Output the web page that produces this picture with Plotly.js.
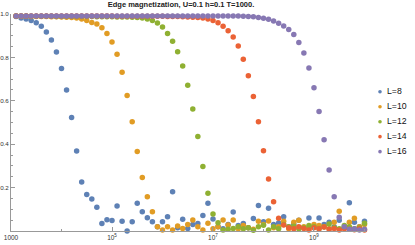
<!DOCTYPE html>
<html><head><meta charset="utf-8">
<script src="https://cdn.plot.ly/plotly-3.0.1.min.js"></script>
<style>html,body{margin:0;padding:0;background:#fff;overflow:hidden}#chart{width:415px;height:245px}</style>
</head><body><div id="chart"></div>
<script>
// x grid (time steps, log spaced)
const xValues = [
  1e3,1.259e3,1.585e3,1.995e3,2.512e3,3.162e3,3.981e3,5.012e3,6.310e3,7.943e3,
  1e4,1.259e4,1.585e4,1.995e4,2.512e4,3.162e4,3.981e4,5.012e4,6.310e4,7.943e4,
  1e5,1.259e5,1.585e5,1.995e5,2.512e5,3.162e5,3.981e5,5.012e5,6.310e5,7.943e5,
  1e6,1.259e6,1.585e6,1.995e6,2.512e6,3.162e6,3.981e6,5.012e6,6.310e6,7.943e6,
  1e7,1.259e7,1.585e7,1.995e7,2.512e7,3.162e7,3.981e7,5.012e7,6.310e7,7.943e7,
  1e8,1.259e8,1.585e8,1.995e8,2.512e8,3.162e8,3.981e8,5.012e8,6.310e8,7.943e8,
  1e9,1.259e9,1.585e9,1.995e9,2.512e9,3.162e9,3.981e9,5.012e9,6.310e9,7.943e9,
  1e10
];

const seriesNames = ['L=8','L=10','L=12','L=14','L=16'];
const seriesColors = ['#5E81B5','#E19C24','#8FB032','#EB6235','#8778B3'];

const magL8 = [
  0.990,0.988,0.982,0.977,0.970,0.960,0.943,0.917,0.880,0.825,0.749,0.650,0.523,
  0.369,0.226,0.168,0.148,0.109,0.034,0.052,0.048,0.115,0.045,0.000,0.043,0.128,
  0.089,0.061,0.043,0.020,0.043,0.066,0.181,0.015,0.054,0.012,0.030,0.035,0.071,
  0.128,0.055,0.020,0.010,0.030,0.087,0.025,0.035,0.015,0.058,0.117,0.043,0.105,
  0.030,0.037,0.066,0.020,0.030,0.050,0.015,0.060,0.020,0.060,0.030,0.040,0.020,
  0.050,0.015,0.130,0.040,0.020,0.045
];
const magL10 = [
  0.991,0.991,0.990,0.990,0.989,0.989,0.988,0.988,0.987,0.987,0.986,0.985,0.984,
  0.982,0.977,0.970,0.961,0.954,0.937,0.910,0.871,0.815,0.731,0.624,0.504,0.366,
  0.246,0.158,0.089,
  0.020,0.005,0.020,0.005,0.023,0.011,0.030,0.051,0.020,0.005,0.036,0.010,0.020,
  0.051,0.028,0.051,0.010,0.025,0.015,0.008,0.045,0.030,0.046,0.015,0.020,0.045,
  0.010,0.040,0.050,0.020,0.010,0.030,0.025,0.020,0.010,0.040,0.091,0.015,0.040,
  0.059,0.020,0.030
];
const magL12 = [
  0.991,0.991,0.991,0.991,0.990,0.990,0.990,0.990,0.990,0.989,0.989,0.989,0.989,
  0.988,0.988,0.988,0.988,0.987,0.987,0.987,0.987,0.986,0.986,0.986,0.985,
  0.984,0.982,0.977,0.970,0.958,0.940,0.910,0.875,0.826,0.760,0.672,0.562,
  0.435,0.297,0.174,0.078,0.038,0.005,0.008,0.012,0.020,0.010,0.015,0.003,0.020,
  0.026,0.005,0.020,0.010,0.030,0.020,0.022,0.010,0.015,0.025,0.020,0.010,0.020,
  0.032,0.015,0.010,0.025,0.020,0.010,0.015,0.036
];
const magL14 = [
  0.991,0.991,0.991,0.991,0.991,0.991,0.991,0.991,0.991,0.991,0.991,0.991,0.991,
  0.991,0.991,0.991,0.991,0.991,0.991,0.991,0.991,
  0.990,0.990,0.990,0.990,0.990,0.990,0.990,0.990,0.990,0.990,
  0.989,0.988,0.988,0.987,0.986,0.985,
  0.984,0.982,0.977,0.970,0.960,0.943,0.923,0.894,0.852,0.792,0.715,0.620,0.504,
  0.370,0.240,0.135,
  0.059,0.028,0.015,0.010,0.020,0.012,0.005,0.015,0.010,0.018,0.008,0.012,0.005,
  0.010,0.008,0.006,0.010,0.005
];
const magL16 = [
  0.991,0.991,0.991,0.991,0.991,0.991,0.991,0.991,0.991,0.991,0.991,0.991,0.991,
  0.991,0.991,0.991,0.991,0.991,0.991,0.991,0.991,0.991,0.991,0.991,0.991,0.991,
  0.991,0.991,0.991,0.991,0.991,0.991,0.991,0.991,0.991,0.991,0.991,0.991,0.991,
  0.991,0.991,0.991,0.991,0.991,0.991,0.991,
  0.990,0.989,0.987,0.984,0.980,0.976,0.968,0.957,0.945,0.928,0.906,0.869,0.820,
  0.751,0.660,0.551,0.420,0.281,0.158,0.063,
  0.020,0.008,0.010,0.005,0.008
];
const seriesValues = [magL8, magL10, magL12, magL14, magL16];

const xTickVals = [1e3,1e5,1e7,1e9];
const xTickText = ['1000','10<sup>5</sup>','10<sup>7</sup>','10<sup>9</sup>'];
const xMinorVals = [1e4,1e6,1e8,1e10];
const yTickVals = [0.2,0.4,0.6,0.8,1.0];
const yTickText = ['0.2','0.4','0.6','0.8','1.0'];
const yMinorVals = [0.05,0.1,0.15,0.25,0.3,0.35,0.45,0.5,0.55,0.65,0.7,0.75,0.85,0.9,0.95];
const legendSlots = [0,1,2,3,4];

const FONT = '"Liberation Sans", Arial, sans-serif';
const AX = '#999';

const traces = seriesValues.map((vals, i) => ({
  type:'scatter', mode:'markers', name: seriesNames[i],
  x: xValues, y: vals, xaxis:'x', yaxis:'y',
  marker:{color: seriesColors[i], size:5.5, line:{width:0}},
  cliponaxis:false, hoverinfo:'skip', showlegend:false
}));

// legend drawn as a small side panel: swatches, then labels
traces.push({
  type:'scatter', mode:'markers', xaxis:'x2', yaxis:'y2',
  x: legendSlots.map(() => 0), y: legendSlots,
  marker:{color: seriesColors, size:3.6},
  cliponaxis:false, hoverinfo:'skip', showlegend:false
});
traces.push({
  type:'scatter', mode:'text', xaxis:'x2', yaxis:'y2',
  x: legendSlots.map(() => 0.7), y: legendSlots,
  text: seriesNames, textposition:'middle right',
  textfont:{family:FONT, size:8.7, color:'#111'},
  cliponaxis:false, hoverinfo:'skip', showlegend:false
});

const layout = {
  width:415, height:245,
  margin:{l:11, r:0, t:14, b:14, pad:0},
  paper_bgcolor:'#fff', plot_bgcolor:'#fff',
  showlegend:false,
  font:{family:FONT, size:7, color:'#333'},
  title:{
    text:'Edge magnetization, U=0.1 h=0.1 T=1000.',
    font:{family:FONT, size:7.5, color:'#222', weight:'bold'},
    xref:'container', x:181/415, xanchor:'center',
    yref:'container', y:1-4.5/245, yanchor:'middle'
  },
  xaxis:{
    type:'log', domain:[0, 355/404], range:[3, 10.03], anchor:'y',
    showline:true, linecolor:AX, linewidth:1, zeroline:false, showgrid:false,
    ticks:'inside', ticklen:4, tickwidth:1, tickcolor:AX,
    tickmode:'array', tickvals:xTickVals, ticktext:xTickText,
    tickfont:{family:FONT, size:6.5, color:'#333'},
    minor:{tickmode:'array', tickvals:xMinorVals, ticklen:2, tickcolor:AX, ticks:'inside', showgrid:false}
  },
  yaxis:{
    range:[0, 1], domain:[0,1], anchor:'x',
    showline:true, linecolor:AX, linewidth:1, zeroline:false, showgrid:false,
    ticks:'inside', ticklen:4, tickwidth:1, tickcolor:AX,
    tickmode:'array', tickvals:yTickVals, ticktext:yTickText,
    tickfont:{family:FONT, size:6.2, color:'#333'},
    minor:{tickmode:'array', tickvals:yMinorVals, ticklen:2, tickcolor:AX, ticks:'inside', showgrid:false}
  },
  xaxis2:{domain:[364/404, 1], range:[-0.5, 3.5], visible:false, anchor:'y2', fixedrange:true},
  yaxis2:{domain:[0,1], range:[9.29, -5.18], visible:false, anchor:'x2', fixedrange:true}
};

Plotly.newPlot('chart', traces, layout, {staticPlot:true, displayModeBar:false});
</script>
</body></html>
